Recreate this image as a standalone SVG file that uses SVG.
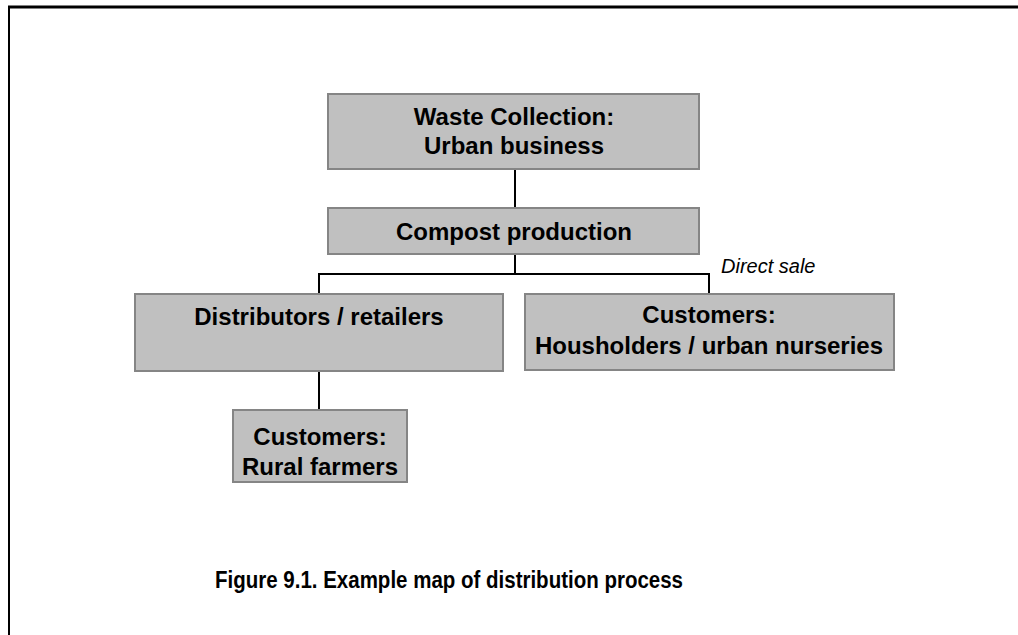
<svg xmlns="http://www.w3.org/2000/svg" width="1018" height="635" viewBox="0 0 1018 635">
<style>
.box{fill:#c0c0c0;stroke:#858585;stroke-width:2}
.t{font-family:"Liberation Sans",Arial,sans-serif;font-weight:bold;font-size:24px;fill:#000;text-anchor:middle}
.c{fill:none;stroke:#000;stroke-width:2}
</style>
<rect width="1018" height="635" fill="#fff"/>
<g id="frame">
<line x1="8" y1="7" x2="1018" y2="7" stroke="#000" stroke-width="3"/>
<line x1="9" y1="7" x2="9" y2="635" stroke="#000" stroke-width="2"/>
</g>
<g id="connectors">
<line class="c" x1="515" y1="169" x2="515" y2="208"/>
<line class="c" x1="515" y1="254" x2="515" y2="274"/>
<polyline class="c" points="319,294 319,274 709,274 709,294"/>
<line class="c" x1="319" y1="371" x2="319" y2="410"/>
</g>
<g id="waste">
<rect class="box" x="328" y="94" width="371" height="75"/>
<text class="t" x="514" y="125">Waste Collection:</text>
<text class="t" x="514" y="154">Urban business</text>
</g>
<g id="compost">
<rect class="box" x="328" y="208" width="371" height="46"/>
<text class="t" x="514" y="240">Compost production</text>
</g>
<g id="distributors">
<rect class="box" x="135" y="294" width="368" height="77"/>
<text class="t" x="319" y="325">Distributors / retailers</text>
</g>
<g id="householders">
<rect class="box" x="525" y="294" width="369" height="76"/>
<text class="t" x="709" y="323">Customers:</text>
<text class="t" x="709" y="354">Housholders / urban nurseries</text>
</g>
<g id="rural">
<rect class="box" x="233" y="410" width="174" height="72"/>
<text class="t" x="320" y="445">Customers:</text>
<text class="t" x="320" y="475">Rural farmers</text>
</g>
<text x="721" y="273" font-family="Liberation Sans,Arial,sans-serif" font-style="italic" font-size="20" fill="#000">Direct sale</text>
<text x="215" y="588" font-family="Liberation Sans,Arial,sans-serif" font-weight="bold" font-size="23" textLength="468" lengthAdjust="spacingAndGlyphs" fill="#000">Figure 9.1. Example map of distribution process</text>
</svg>
